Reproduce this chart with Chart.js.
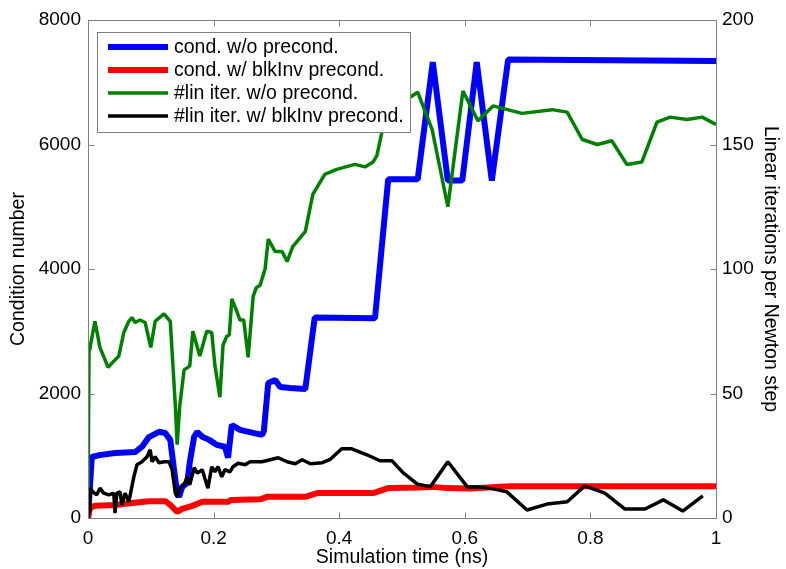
<!DOCTYPE html>
<html>
<head>
<meta charset="utf-8">
<title>Condition number and linear iterations</title>
<script src="https://cdn.jsdelivr.net/npm/chart.js"></script>
<style>
  html, body { margin: 0; padding: 0; background: #fff; }
  #wrap { width: 786px; height: 569px; }
</style>
</head>
<body>
<div id="wrap"><canvas id="condChart" width="786" height="569"></canvas></div>
<script>
// condition number without preconditioner (left axis)
const condNoPrecT = [0, 0.006, 0.018, 0.043, 0.075, 0.086, 0.097, 0.113, 0.123, 0.131,
  0.137, 0.142, 0.145, 0.150, 0.158, 0.162, 0.169, 0.174, 0.182, 0.193,
  0.205, 0.218, 0.223, 0.229, 0.242, 0.277, 0.280, 0.287, 0.298, 0.306,
  0.322, 0.346, 0.361, 0.457, 0.478, 0.525, 0.549, 0.573, 0.596, 0.619,
  0.643, 0.669, 1.0];
const condNoPrecV = [0, 980, 1010, 1045, 1060, 1145, 1300, 1385, 1365, 1255,
  775, 400, 340, 500, 565, 890, 1305, 1385, 1305, 1255,
  1175, 1145, 970, 1495, 1415, 1335, 1395, 2170, 2215, 2105,
  2090, 2072, 3220, 3210, 5440, 5440, 7325, 5420, 5420, 7325,
  5420, 7365, 7340];

// condition number with blkInv preconditioner (left axis)
const condBlkT = [0, 0.003, 0.011, 0.043, 0.070, 0.097, 0.123, 0.131, 0.142, 0.150,
  0.166, 0.182, 0.223, 0.228, 0.274, 0.285, 0.346, 0.365, 0.454, 0.478,
  0.529, 0.549, 0.572, 0.608, 0.672, 1.0];
const condBlkV = [0, 160, 195, 210, 240, 270, 270, 210, 100, 145,
  195, 260, 260, 290, 300, 340, 340, 400, 400, 480,
  490, 500, 480, 475, 510, 510];

// linear iterations per Newton step without preconditioner (right axis)
const iterNoPrecT = [0, 0.0016, 0.003, 0.011, 0.019, 0.032, 0.041, 0.049, 0.057, 0.065,
  0.070, 0.075, 0.083, 0.091, 0.100, 0.107, 0.121, 0.131, 0.139, 0.142,
  0.146, 0.153, 0.162, 0.167, 0.178, 0.189, 0.197, 0.202, 0.210, 0.215,
  0.221, 0.225, 0.229, 0.237, 0.242, 0.248, 0.255, 0.263, 0.268, 0.274,
  0.282, 0.287, 0.298, 0.309, 0.317, 0.326, 0.346, 0.358, 0.377, 0.396,
  0.425, 0.441, 0.454, 0.460, 0.468, 0.489, 0.513, 0.525, 0.548, 0.573,
  0.597, 0.621, 0.645, 0.691, 0.739, 0.763, 0.787, 0.811, 0.834, 0.858,
  0.882, 0.906, 0.927, 0.954, 0.978, 1.0];
const iterNoPrecV = [2, 67.5, 68, 79, 68.5, 60.5, 63, 65, 74.5, 79,
  80.5, 78.5, 79.5, 78.5, 68.5, 79, 82, 79, 45.5, 29.5,
  44.8, 59.5, 61, 75, 65, 75, 74.5, 61.5, 48.5, 69.5,
  73, 73.5, 88, 83, 79.5, 79.5, 64.5, 89, 92.5, 93.5,
  100, 112, 107, 107, 103, 109, 115, 130, 138, 140,
  142, 141, 143, 145.5, 155, 168, 169, 171, 156, 125,
  171.5, 159.5, 165.5, 162.5, 164, 163, 152, 150, 151.5, 142,
  143, 159, 161, 160, 161, 158];

// linear iterations per Newton step with blkInv preconditioner (right axis)
const iterBlkT = [0, 0.0016, 0.003, 0.010, 0.014, 0.019, 0.025, 0.033, 0.041, 0.043,
  0.046, 0.051, 0.054, 0.059, 0.065, 0.073, 0.078, 0.086, 0.094, 0.099,
  0.102, 0.107, 0.113, 0.121, 0.129, 0.134, 0.139, 0.142, 0.146, 0.153,
  0.158, 0.162, 0.169, 0.174, 0.182, 0.186, 0.191, 0.197, 0.202, 0.207,
  0.213, 0.218, 0.226, 0.231, 0.239, 0.250, 0.258, 0.277, 0.290, 0.303,
  0.317, 0.330, 0.341, 0.354, 0.373, 0.385, 0.404, 0.420, 0.444, 0.465,
  0.484, 0.502, 0.524, 0.545, 0.573, 0.604, 0.624, 0.645, 0.667, 0.699,
  0.731, 0.763, 0.791, 0.823, 0.855, 0.887, 0.916, 0.947, 0.979];
const iterBlkV = [0, 2.4, 12, 10, 9.3, 12, 10, 9.3, 10, 2,
  10, 10.5, 5.2, 10, 6.5, 16.5, 21.4, 22.6, 24.6, 27.4,
  22.6, 24.6, 22.2, 22.6, 22.6, 19.4, 10, 8.5, 12, 13.3,
  16.5, 13.3, 20.2, 18, 19.4, 16, 12, 20.6, 18.5, 20.6,
  16.5, 19.4, 18.5, 20.6, 22, 21.4, 22.6, 22.6, 23.4, 24.2,
  22.6, 21.8, 23.4, 21.8, 22.2, 23.4, 27.8, 27.8, 25.4, 23,
  23, 18.1, 13.7, 12.5, 22.6, 12.5, 12.5, 11.7, 10.5, 3.2,
  5.6, 6.5, 12.9, 10, 3.6, 3.6, 7.3, 2.8, 8.9];

const seriesLabels = ['cond. w/o precond.', 'cond. w/ blkInv precond.',
  '#lin iter. w/o precond.', '#lin iter. w/ blkInv precond.'];
const seriesColors = ['#0000ff', '#ff0000', '#008000', '#000000'];
const seriesWidths = [6, 6, 3.5, 3.5];

const xTicks = [0, 0.2, 0.4, 0.6, 0.8, 1];
const leftTicks = [0, 2000, 4000, 6000, 8000];
const rightTicks = [0, 50, 100, 150, 200];

const FONT = '"Liberation Sans", Arial, Helvetica, sans-serif';
const FRAME = '#7f7f7f';

function pairs(ts, vs) {
  return ts.map((t, i) => ({ x: t, y: vs[i] }));
}

function line(i, ts, vs, axis, order) {
  return {
    label: seriesLabels[i],
    data: pairs(ts, vs),
    yAxisID: axis,
    borderColor: seriesColors[i],
    backgroundColor: seriesColors[i],
    borderWidth: seriesWidths[i],
    borderJoinStyle: 'bevel',
    pointRadius: 0,
    tension: 0,
    fill: false,
    order: order
  };
}

// box round the plot, inward ticks and the boxed legend in the upper left
const frameAndLegend = {
  id: 'frameAndLegend',
  afterDatasetsDraw(chart) {
    const { ctx, chartArea: a, scales } = chart;
    ctx.save();
    ctx.strokeStyle = FRAME;
    ctx.lineWidth = 1;
    const L = Math.round(a.left) + 0.5, R = Math.round(a.right) + 0.5;
    const T = Math.round(a.top) + 0.5, B = Math.round(a.bottom) + 0.5;
    ctx.strokeRect(L, T, R - L, B - T);
    ctx.beginPath();
    xTicks.forEach(v => {
      const px = Math.round(scales.x.getPixelForValue(v)) + 0.5;
      ctx.moveTo(px, B); ctx.lineTo(px, B - 6);
      ctx.moveTo(px, T); ctx.lineTo(px, T + 6);
    });
    leftTicks.forEach(v => {
      const py = Math.round(scales.y.getPixelForValue(v)) + 0.5;
      ctx.moveTo(L, py); ctx.lineTo(L + 6, py);
    });
    rightTicks.forEach(v => {
      const py = Math.round(scales.y1.getPixelForValue(v)) + 0.5;
      ctx.moveTo(R, py); ctx.lineTo(R - 6, py);
    });
    ctx.stroke();

    // legend
    const bx = 97.5, by = 32.5, bw = 313, bh = 100;
    ctx.fillStyle = '#fff';
    ctx.fillRect(bx, by, bw, bh);
    ctx.strokeStyle = FRAME;
    ctx.strokeRect(bx, by, bw, bh);
    ctx.font = '19.5px ' + FONT;
    ctx.textBaseline = 'middle';
    ctx.textAlign = 'left';
    seriesLabels.forEach((lab, i) => {
      const ry = 47 + i * 23;
      ctx.beginPath();
      ctx.strokeStyle = seriesColors[i];
      ctx.lineWidth = seriesWidths[i];
      ctx.moveTo(108, ry);
      ctx.lineTo(168, ry);
      ctx.stroke();
      ctx.fillStyle = '#000';
      ctx.fillText(lab, 174, ry + 1);
    });
    ctx.restore();
  }
};

new Chart(document.getElementById('condChart'), {
  type: 'line',
  data: {
    datasets: [
      line(0, condNoPrecT, condNoPrecV, 'y', 4),
      line(1, condBlkT, condBlkV, 'y', 3),
      line(2, iterNoPrecT, iterNoPrecV, 'y1', 2),
      line(3, iterBlkT, iterBlkV, 'y1', 1)
    ]
  },
  options: {
    responsive: false,
    devicePixelRatio: 1,
    animation: false,
    layout: { padding: { top: 20, left: 0, right: 0, bottom: 0 } },
    plugins: {
      legend: { display: false },
      tooltip: { enabled: false }
    },
    scales: {
      x: {
        type: 'linear',
        min: 0,
        max: 1,
        afterFit(s) { s.height = 51; },
        afterBuildTicks(s) { s.ticks = xTicks.map(v => ({ value: v })); },
        grid: { display: false, drawTicks: false },
        border: { display: false },
        ticks: {
          color: '#000',
          padding: 9,
          maxRotation: 0,
          font: { family: FONT, size: 19 },
          callback: v => String(v)
        },
        title: {
          display: true,
          text: 'Simulation time (ns)',
          color: '#000',
          font: { family: FONT, size: 19.5 },
          padding: { top: 0, bottom: 0 }
        }
      },
      y: {
        position: 'left',
        min: 0,
        max: 8000,
        afterFit(s) { s.width = 88; },
        afterBuildTicks(s) { s.ticks = leftTicks.map(v => ({ value: v })); },
        grid: { display: false, drawTicks: false },
        border: { display: false },
        ticks: {
          color: '#000',
          padding: 7,
          font: { family: FONT, size: 19 },
          callback: v => String(v)
        },
        title: {
          display: true,
          text: 'Condition number',
          color: '#000',
          font: { family: FONT, size: 19.5 },
          padding: { top: 7, bottom: 0 }
        }
      },
      y1: {
        position: 'right',
        min: 0,
        max: 200,
        afterFit(s) { s.width = 70; },
        afterBuildTicks(s) { s.ticks = rightTicks.map(v => ({ value: v })); },
        grid: { display: false, drawTicks: false },
        border: { display: false },
        ticks: {
          color: '#000',
          padding: 6,
          font: { family: FONT, size: 19 },
          callback: v => String(v)
        },
        title: {
          display: true,
          text: 'Linear iterations per Newton step',
          color: '#000',
          font: { family: FONT, size: 19.5 },
          padding: { top: 4, bottom: 0 }
        }
      }
    }
  },
  plugins: [frameAndLegend]
});
</script>
</body>
</html>
